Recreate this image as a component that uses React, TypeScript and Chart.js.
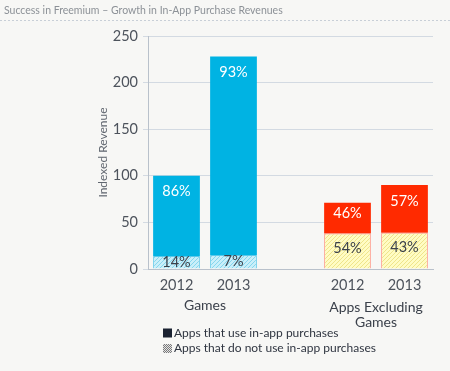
import React, { useEffect, useRef } from "react";
import { Chart, registerables } from "chart.js";

Chart.register(...registerables);

const TITLE = "Success in Freemium – Growth in In-App Purchase Revenues";
const Y_TITLE = "Indexed Revenue";
const CATEGORIES = ["2012", "2013", "", "2012", "2013"];
const GROUP_LABELS = [["Games"], ["Apps Excluding", "Games"]];
const GROUP_MEMBERS = [[0, 1], [3, 4]];
// hatched bottom segments: apps that do not use in-app purchases
const NON_IAP = [14, 15, null, 38, 39];
// solid top segments: apps that use in-app purchases
const IAP = [86, 213, null, 33, 51];
const IAP_PCT = ["86%", "93%", "", "46%", "57%"];
const NON_IAP_PCT = ["14%", "7%", "", "54%", "43%"];
const Y_MIN = 0;
const Y_MAX = 250;
const Y_STEP = 50;
const LEGEND_LABELS = ["Apps that use in-app purchases", "Apps that do not use in-app purchases"];

const FONT = "Lato";
const CYAN = "#00b3e3";
const RED = "#ff2a00";

function makeHatch(bg: string, line: string) {
  const c = document.createElement("canvas");
  c.width = 4;
  c.height = 4;
  const g = c.getContext("2d")!;
  g.fillStyle = bg;
  g.fillRect(0, 0, 4, 4);
  g.fillStyle = line;
  for (let i = 0; i < 4; i++) g.fillRect(i, 3 - i, 1, 1);
  return g.createPattern(c, "repeat")!;
}

function makeChecker() {
  const c = document.createElement("canvas");
  c.width = 2;
  c.height = 2;
  const g = c.getContext("2d")!;
  g.fillStyle = "#e4e4e4";
  g.fillRect(0, 0, 2, 2);
  g.fillStyle = "#7a7a7a";
  g.fillRect(0, 0, 1, 1);
  g.fillRect(1, 1, 1, 1);
  return g.createPattern(c, "repeat")!;
}

export default function App() {
  const ref = useRef<HTMLCanvasElement>(null);

  useEffect(() => {
    const canvas = ref.current!;
    const cyanHatch = makeHatch("#c9eff9", "#86d6ee");
    const yellowHatch = makeHatch("#fffcc4", "#efe48a");
    const checker = makeChecker();
    const isGames = (i: number) => i < 2;

    const decor = {
      id: "decor",
      beforeDraw(chart: any) {
        const ctx = chart.ctx;
        ctx.save();
        ctx.fillStyle = "#f7f7f5";
        ctx.fillRect(0, 0, chart.width, chart.height);
        ctx.fillStyle = "#8c9197";
        ctx.font = `10.5px ${FONT}`;
        ctx.textBaseline = "middle";
        ctx.textAlign = "left";
        ctx.fillText(TITLE, 4, 11);
        ctx.strokeStyle = "#c8cfd7";
        ctx.lineWidth = 1;
        ctx.setLineDash([2, 2]);
        ctx.beginPath();
        ctx.moveTo(0, 20.5);
        ctx.lineTo(chart.width, 20.5);
        ctx.stroke();
        ctx.restore();
      },
      afterDatasetsDraw(chart: any) {
        const ctx = chart.ctx;
        ctx.save();
        ctx.font = `14.5px ${FONT}`;
        ctx.textAlign = "center";
        ctx.textBaseline = "middle";
        const bottomMeta = chart.getDatasetMeta(0);
        const topMeta = chart.getDatasetMeta(1);
        CATEGORIES.forEach((_, i) => {
          const b = bottomMeta.data[i];
          const t = topMeta.data[i];
          if (b && NON_IAP[i] != null) {
            const mid = (b.y + b.base) / 2;
            const h = Math.abs(b.base - b.y);
            ctx.fillStyle = "#3b414b";
            ctx.fillText(NON_IAP_PCT[i], b.x, h > 20 ? mid - 3 : mid);
          }
          if (t && IAP[i] != null) {
            const mid = (t.y + t.base) / 2;
            ctx.fillStyle = "#ffffff";
            ctx.fillText(IAP_PCT[i], t.x, Math.min(t.y + 16, mid - 5));
          }
        });
        ctx.restore();
      },
      afterDraw(chart: any) {
        const ctx = chart.ctx;
        const x = chart.scales.x;
        ctx.save();
        ctx.font = `14px ${FONT}`;
        ctx.fillStyle = "#3b414b";
        ctx.textAlign = "center";
        ctx.textBaseline = "middle";
        GROUP_LABELS.forEach((lines, gi) => {
          const idx = GROUP_MEMBERS[gi];
          const cx = (x.getPixelForValue(idx[0]) + x.getPixelForValue(idx[idx.length - 1])) / 2;
          const startY = lines.length > 1 ? 307 : 305;
          lines.forEach((ln, li) => ctx.fillText(ln, cx, startY + li * 15));
        });
        // legend
        ctx.font = `12px ${FONT}`;
        ctx.textAlign = "left";
        LEGEND_LABELS.forEach((lbl, i) => {
          const cy = 333 + i * 15.5;
          ctx.fillStyle = i === 0 ? "#1b2231" : checker;
          ctx.fillRect(163, cy - 4.5, 9, 9);
          ctx.fillStyle = "#2f3540";
          ctx.fillText(lbl, 174, cy);
        });
        ctx.restore();
      },
    };

    const chart = new Chart(canvas, {
      type: "bar",
      data: {
        labels: CATEGORIES,
        datasets: [
          {
            label: LEGEND_LABELS[1],
            data: NON_IAP,
            backgroundColor: CATEGORIES.map((_, i) => (isGames(i) ? cyanHatch : yellowHatch)),
            borderColor: CATEGORIES.map((_, i) => (isGames(i) ? "#5cc9ea" : "#ff9a8a")),
            borderWidth: 1,
            categoryPercentage: 1,
            barPercentage: 0.82,
          },
          {
            label: LEGEND_LABELS[0],
            data: IAP,
            backgroundColor: CATEGORIES.map((_, i) => (isGames(i) ? CYAN : RED)),
            borderWidth: 0,
            categoryPercentage: 1,
            barPercentage: 0.82,
          },
        ],
      },
      options: {
        responsive: false,
        animation: false,
        devicePixelRatio: 1,
        layout: { padding: { top: 36, right: 17, left: 96, bottom: 0 } },
        plugins: {
          legend: { display: false },
          title: { display: false },
          tooltip: { enabled: false },
        },
        scales: {
          x: {
            stacked: true,
            grid: { display: false, drawTicks: false },
            border: { display: true, color: "#b9c1cb" },
            ticks: { color: "#4d535c", font: { family: FONT, size: 14.5 }, padding: 8 },
            afterFit(scale: any) {
              scale.height = 102;
            },
          },
          y: {
            stacked: true,
            min: Y_MIN,
            max: Y_MAX,
            grid: { color: "#d3dae2", drawTicks: true, tickLength: 5 },
            border: { display: true, color: "#b9c1cb" },
            ticks: {
              stepSize: Y_STEP,
              color: "#4d535c",
              font: { family: FONT, size: 14.5 },
              padding: 5,
            },
            title: {
              display: true,
              text: Y_TITLE,
              color: "#60666f",
              font: { family: FONT, size: 12 },
              padding: 0,
            },
            afterFit(scale: any) {
              scale.width = 52;
            },
          },
        },
      },
      plugins: [decor],
    } as any);

    return () => chart.destroy();
  }, []);

  return (
    <div style={{ position: "absolute", left: 0, top: 0, width: 450, height: 371 }}>
      <canvas ref={ref} width={450} height={371} style={{ width: 450, height: 371, display: "block" }} />
    </div>
  );
}
